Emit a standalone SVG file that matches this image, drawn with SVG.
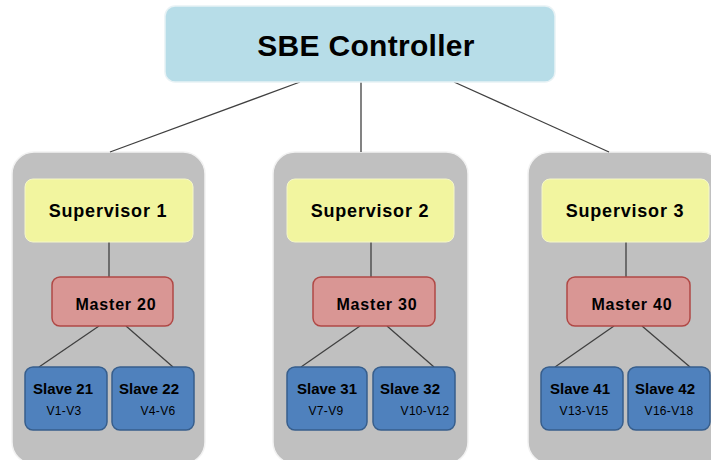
<svg xmlns="http://www.w3.org/2000/svg" width="711" height="460" viewBox="0 0 711 460">
  <style>
    .bg { fill: #ffffff; }
    .panel { fill: #c0c0c0; stroke: #f2f2f2; stroke-width: 1.5; }
    .ctrl { fill: #b7dde8; stroke: #e8f2f5; stroke-width: 1.5; }
    .sup { fill: #f2f59f; stroke: #f5f7c8; stroke-width: 1; }
    .master { fill: #d99694; stroke: #b04845; stroke-width: 1.5; }
    .slave { fill: #4f81bd; stroke: #375e8c; stroke-width: 1.5; }
    .wire { stroke: #404040; stroke-width: 1.3; fill: none; }
    text { font-family: "Liberation Sans", Arial, sans-serif; fill: #000; text-anchor: middle; }
    .t-ctrl { font-size: 30px; font-weight: bold; letter-spacing: 0.3px; }
    .t-sup { font-size: 18px; font-weight: bold; letter-spacing: 0.8px; }
    .t-master { font-size: 16px; font-weight: bold; letter-spacing: 0.8px; }
    .t-slave { font-size: 15px; font-weight: bold; }
    .t-range { font-size: 12px; letter-spacing: 0.3px; }
  </style>

  <rect class="bg" x="0" y="0" width="711" height="460"/>

  <!-- grey group panels -->
  <g id="panel-1"><rect class="panel" x="12" y="152" width="193" height="312" rx="22"/></g>
  <g id="panel-2"><rect class="panel" x="273" y="152" width="195" height="312" rx="22"/></g>
  <g id="panel-3"><rect class="panel" x="528" y="152" width="195" height="312" rx="22"/></g>

  <!-- connectors -->
  <g id="connectors">
    <line class="wire" x1="300" y1="82" x2="110" y2="152"/>
    <line class="wire" x1="361" y1="82" x2="361" y2="152"/>
    <line class="wire" x1="454" y1="82" x2="609" y2="152"/>

    <line class="wire" x1="109" y1="242" x2="109" y2="277"/>
    <line class="wire" x1="371" y1="242" x2="371" y2="277"/>
    <line class="wire" x1="626" y1="242" x2="626" y2="277"/>

    <line class="wire" x1="99" y1="326" x2="39" y2="367"/>
    <line class="wire" x1="126" y1="326" x2="173" y2="367"/>
    <line class="wire" x1="360" y1="326" x2="301" y2="367"/>
    <line class="wire" x1="387" y1="326" x2="434" y2="367"/>
    <line class="wire" x1="614" y1="326" x2="555" y2="367"/>
    <line class="wire" x1="642" y1="326" x2="690" y2="367"/>
  </g>

  <!-- controller -->
  <g id="controller">
    <rect class="ctrl" x="165" y="6" width="390" height="76" rx="10"/>
    <text class="t-ctrl" x="366" y="56">SBE Controller</text>
  </g>

  <!-- supervisors -->
  <g id="supervisor-1">
    <rect class="sup" x="25" y="179" width="168" height="63" rx="8"/>
    <text class="t-sup" x="108" y="217">Supervisor 1</text>
  </g>
  <g id="supervisor-2">
    <rect class="sup" x="287" y="179" width="167" height="63" rx="8"/>
    <text class="t-sup" x="370" y="217">Supervisor 2</text>
  </g>
  <g id="supervisor-3">
    <rect class="sup" x="542" y="179" width="167" height="63" rx="8"/>
    <text class="t-sup" x="625" y="217">Supervisor 3</text>
  </g>

  <!-- masters -->
  <g id="master-20">
    <rect class="master" x="52" y="277" width="121" height="49" rx="8"/>
    <text class="t-master" x="116" y="310">Master 20</text>
  </g>
  <g id="master-30">
    <rect class="master" x="313" y="277" width="122" height="49" rx="8"/>
    <text class="t-master" x="377" y="310">Master 30</text>
  </g>
  <g id="master-40">
    <rect class="master" x="567" y="277" width="123" height="49" rx="8"/>
    <text class="t-master" x="632" y="310">Master 40</text>
  </g>

  <!-- slaves -->
  <g id="slave-21">
    <rect class="slave" x="25" y="367" width="82" height="63" rx="8"/>
    <text class="t-slave" x="63" y="394">Slave 21</text>
    <text class="t-range" x="64" y="415">V1-V3</text>
  </g>
  <g id="slave-22">
    <rect class="slave" x="112" y="367" width="82" height="63" rx="8"/>
    <text class="t-slave" x="149" y="394">Slave 22</text>
    <text class="t-range" x="158" y="415">V4-V6</text>
  </g>
  <g id="slave-31">
    <rect class="slave" x="287" y="367" width="80" height="63" rx="8"/>
    <text class="t-slave" x="327" y="394">Slave 31</text>
    <text class="t-range" x="326" y="415">V7-V9</text>
  </g>
  <g id="slave-32">
    <rect class="slave" x="373" y="367" width="82" height="63" rx="8"/>
    <text class="t-slave" x="410" y="394">Slave 32</text>
    <text class="t-range" x="425" y="415">V10-V12</text>
  </g>
  <g id="slave-41">
    <rect class="slave" x="541" y="367" width="82" height="63" rx="8"/>
    <text class="t-slave" x="580" y="394">Slave 41</text>
    <text class="t-range" x="584" y="415">V13-V15</text>
  </g>
  <g id="slave-42">
    <rect class="slave" x="628" y="367" width="82" height="63" rx="8"/>
    <text class="t-slave" x="665" y="394">Slave 42</text>
    <text class="t-range" x="669" y="415">V16-V18</text>
  </g>
</svg>
